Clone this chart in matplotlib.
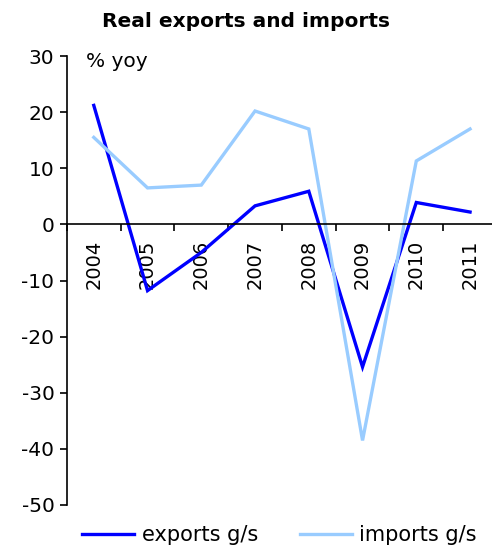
import matplotlib
matplotlib.use("Agg")
import matplotlib.pyplot as plt
import numpy as np

years = ["2004", "2005", "2006", "2007", "2008", "2009", "2010", "2011"]
exports = [21.2, -11.8, -5.0, 3.3, 5.9, -25.4, 3.9, 2.2]
imports = [15.5, 6.5, 7.0, 20.2, 17.0, -38.5, 11.3, 17.0]

plt.rcParams["font.family"] = ["DejaVu Sans"]
FS = 14.5

fig = plt.figure(figsize=(4.92, 5.47), dpi=100)
ax = fig.add_axes([0.136, 0.0768, 0.874, 0.8208])

x = np.arange(len(years))
l1, = ax.plot(x, exports, color="#0000FF", lw=2.4, solid_joinstyle="miter")
l2, = ax.plot(x, imports, color="#99CCFF", lw=2.4, solid_joinstyle="miter")

ax.set_xlim(-0.5, len(years) - 0.5)
ax.set_ylim(-50, 30)
ax.set_yticks(np.arange(-50, 31, 10))
ax.set_yticklabels([f"{v:d}" for v in range(-50, 31, 10)], fontsize=FS)

# category axis sits on the zero line, ticks between categories
ax.spines["bottom"].set_position(("data", 0))
ax.spines["top"].set_visible(False)
ax.spines["right"].set_visible(False)
ax.spines["left"].set_linewidth(1.2)
ax.spines["bottom"].set_linewidth(1.2)
ax.set_xticks(x)
ax.set_xticklabels(years, rotation=90, fontsize=14, va="top")
ax.tick_params(axis="x", which="major", length=0, pad=11)
ax.set_xticks(np.arange(-0.5, len(years)), minor=True)
ax.tick_params(axis="x", which="minor", length=5, width=1.2, direction="out")
ax.tick_params(axis="y", length=5, width=1.2, direction="out", pad=4)

ax.text(0.045, 1.01, "% yoy", transform=ax.transAxes, fontsize=FS, va="top", ha="left")

fig.text(0.5, 0.96, "Real exports and imports", fontsize=14.5, fontweight="bold",
         ha="center", va="center")

fig.legend([l1, l2], ["exports g/s", "imports g/s"], loc="center",
           bbox_to_anchor=(0.568, 0.022), ncol=2, frameon=False, fontsize=15,
           handlelength=2.5, columnspacing=2.0, handletextpad=0.35)

fig.savefig("out.png", dpi=100)
